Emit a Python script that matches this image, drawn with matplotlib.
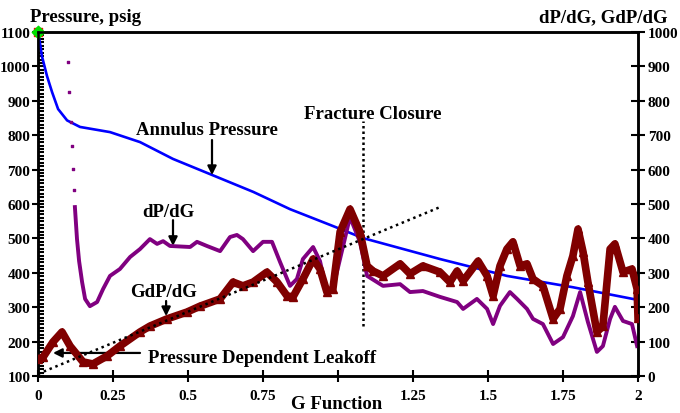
import numpy as np
import matplotlib.pyplot as plt
from matplotlib.ticker import MultipleLocator, FixedLocator

# ── Data ─────────────────────────────────────────────────────────
# Annulus pressure, psig (left axis)
g_ann = [0.0, 0.007, 0.013, 0.03, 0.047, 0.067, 0.097, 0.14, 0.24, 0.34, 0.45,
         0.573, 0.718, 0.84, 0.983, 1.083, 1.34, 1.563, 1.783, 1.983, 2.0]
p_ann = [1100, 1065, 1030, 972, 925, 876, 843, 824, 809, 780, 731,
         687, 635, 585, 536, 501, 440, 391, 358, 324, 322]

# dP/dG early scattered points (right axis)
g_dpdg_pts = [0.1, 0.103, 0.11, 0.113, 0.117, 0.12]
v_dpdg_pts = [913, 826, 738, 669, 602, 541]

# dP/dG (right axis)
g_dpdg = [0.123, 0.13, 0.137, 0.147, 0.157, 0.173, 0.197, 0.217, 0.24, 0.273,
          0.307, 0.34, 0.373, 0.397, 0.417, 0.44, 0.507, 0.53, 0.563, 0.607,
          0.64, 0.663, 0.683, 0.717, 0.75, 0.78, 0.807, 0.84, 0.863, 0.883,
          0.917, 0.94, 0.963, 0.983, 1.04, 1.073, 1.097, 1.15, 1.207, 1.24,
          1.283, 1.34, 1.397, 1.417, 1.463, 1.497, 1.517, 1.54, 1.573, 1.597,
          1.63, 1.65, 1.683, 1.717, 1.75, 1.783, 1.807, 1.833, 1.863, 1.883,
          1.907, 1.923, 1.95, 1.98, 1.997]
v_dpdg = [491, 398, 334, 273, 224, 203, 215, 253, 291, 311,
          346, 369, 398, 384, 392, 378, 375, 390, 378, 363,
          404, 410, 398, 363, 390, 390, 331, 262, 282, 340,
          375, 334, 244, 253, 462, 390, 291, 262, 267, 244,
          247, 230, 215, 195, 224, 195, 151, 204, 244, 224,
          195, 166, 151, 93, 113, 174, 244, 157, 70, 87,
          166, 201, 160, 151, 87]

# G dP/dG (right axis)
g_gdp = [0.0, 0.017, 0.05, 0.08, 0.107, 0.15, 0.183, 0.23, 0.273, 0.34,
         0.373, 0.43, 0.497, 0.54, 0.607, 0.65, 0.683, 0.717, 0.763, 0.797,
         0.83, 0.85, 0.883, 0.917, 0.94, 0.963, 0.983, 1.007, 1.04, 1.073,
         1.097, 1.117, 1.15, 1.207, 1.24, 1.283, 1.34, 1.373, 1.397, 1.417,
         1.467, 1.497, 1.517, 1.54, 1.563, 1.583, 1.607, 1.63, 1.65, 1.683,
         1.717, 1.74, 1.763, 1.783, 1.8, 1.817, 1.833, 1.863, 1.883, 1.907,
         1.923, 1.95, 1.98, 1.997, 2.0]
v_gdp = [50, 55, 99, 128, 87, 41, 35, 58, 87, 128,
         145, 166, 186, 203, 224, 273, 262, 273, 302, 273,
         233, 230, 282, 340, 311, 244, 253, 419, 485, 419,
         320, 305, 291, 326, 297, 320, 302, 273, 305, 276,
         334, 291, 233, 320, 369, 390, 320, 326, 282, 262,
         166, 195, 291, 349, 427, 360, 273, 128, 145, 369,
         384, 302, 311, 253, 170]

# Pressure dependent leakoff trend line (right axis)
g_trend = [0.0, 1.34]
v_trend = [6, 491]

# Fracture closure marker
g_closure = 1.083
closure_span = [245, 841]

x_ticks = [0, 0.25, 0.5, 0.75, 1.0, 1.25, 1.5, 1.75, 2.0]
x_labels = ["0", "0.25", "0.5", "0.75", "", "1.25", "1.5", "1.75", "2"]

# ── Style ────────────────────────────────────────────────────────
C_ANN = "#0000ff"
C_DPDG = "#800080"
C_GDP = "#800000"
FONT = "Liberation Serif"
TICK_FS = 11
NOTE_FS = 13.5

plt.rcParams.update({
    "font.family": FONT,
    "font.weight": "bold",
    "font.size": TICK_FS,
})

fig = plt.figure(figsize=(6.8, 4.14), dpi=100, facecolor="white")
ax = fig.add_axes([38 / 680, 37 / 414, 600 / 680, 344 / 414])
ax2 = ax.twinx()

ax.set_xlim(0, 2)
ax.set_ylim(100, 1100)
ax2.set_ylim(0, 1000)

# ─── Series ──────────────────────────────────────────────────────
ax.plot(g_ann, p_ann, color=C_ANN, lw=1.9, zorder=3)
ax.scatter([0], [1100], marker="s", color="red", s=30, zorder=5, clip_on=False)
ax.scatter([0], [1100], marker="D", color="#00e000", s=40, zorder=6, clip_on=False)

ax2.scatter(g_dpdg_pts, v_dpdg_pts, marker="s", color=C_DPDG, s=4, zorder=2)
ax2.plot(g_dpdg, v_dpdg, color=C_DPDG, lw=2.8, zorder=2)
ax2.plot(g_gdp, v_gdp, color=C_GDP, lw=5.5, zorder=3,
         marker="^", ms=5.5, solid_joinstyle="round")
ax2.plot(g_trend, v_trend, color="black", lw=1.8, ls=(0, (1, 1.5)), zorder=4)
ax.plot([g_closure, g_closure], closure_span, color="black", lw=1.8,
        ls=(0, (1, 1.2)), zorder=4)

# ─── Axes styling ────────────────────────────────────────────────
for a in (ax, ax2):
    for s in a.spines.values():
        s.set_linewidth(1.8)

ax.xaxis.set_major_locator(FixedLocator(x_ticks))
ax.set_xticklabels(x_labels)
ax.yaxis.set_major_locator(MultipleLocator(100))
ax.yaxis.set_minor_locator(MultipleLocator(10))
ax.tick_params(axis="x", direction="inout", length=9, width=1.5, pad=5,
               labelsize=TICK_FS)
ax.tick_params(axis="y", which="major", direction="inout", length=8,
               width=1.5, pad=1.5, labelsize=TICK_FS)
ax.tick_params(axis="y", which="minor", direction="in", length=4, width=1.5)

ax2.yaxis.set_major_locator(MultipleLocator(100))
ax2.tick_params(axis="y", direction="inout", length=10, width=1.5, pad=2,
                labelsize=TICK_FS)

fig.text(337 / 680, 1 - 405 / 414, "G Function", ha="center", va="center",
         fontsize=NOTE_FS, fontweight="bold")

# ─── Annotations ─────────────────────────────────────────────────
ax.text(0.08, 1.045, "Pressure, psig", transform=ax.transAxes,
        ha="center", va="center", fontsize=NOTE_FS, fontweight="bold")
ax.text(0.942, 1.045, "dP/dG, GdP/dG", transform=ax.transAxes,
        ha="center", va="center", fontsize=NOTE_FS, fontweight="bold")

ax.text(0.563, 818, "Annulus Pressure", ha="center", va="center",
        fontsize=NOTE_FS, fontweight="bold")
ax.text(1.117, 864, "Fracture Closure", ha="center", va="center",
        fontsize=NOTE_FS, fontweight="bold")
ax.text(0.433, 577, "dP/dG", ha="center", va="center",
        fontsize=NOTE_FS, fontweight="bold")
ax.text(0.42, 347, "GdP/dG", ha="center", va="center",
        fontsize=NOTE_FS, fontweight="bold")
ax.text(0.367, 155, "Pressure Dependent Leakoff", ha="left", va="center",
        fontsize=NOTE_FS, fontweight="bold")

arrow = dict(arrowstyle="-|>", color="black", lw=1.6, mutation_scale=13,
             shrinkA=0, shrinkB=0)
ax.annotate("", xy=(0.58, 684), xytext=(0.58, 786), arrowprops=arrow, zorder=7)
ax.annotate("", xy=(0.45, 478), xytext=(0.45, 553), arrowprops=arrow, zorder=7)
ax.annotate("", xy=(0.427, 274), xytext=(0.427, 318), arrowprops=arrow, zorder=7)
ax.annotate("", xy=(0.05, 167), xytext=(0.34, 167), arrowprops=arrow, zorder=7)

fig.savefig("out.png", dpi=100, facecolor="white")
